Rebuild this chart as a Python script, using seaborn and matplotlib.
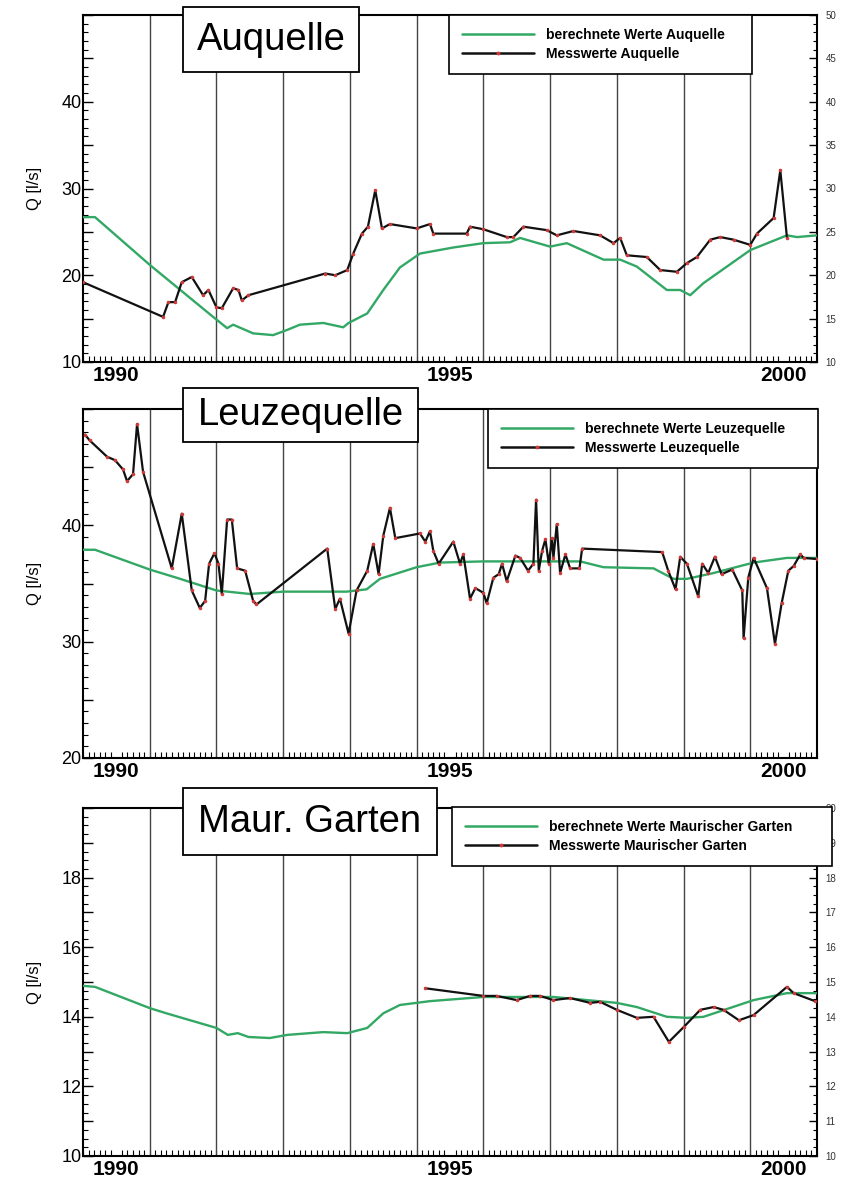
import matplotlib
matplotlib.use('Agg')
import matplotlib.pyplot as plt
import matplotlib.ticker as mticker
from matplotlib.lines import Line2D
from matplotlib.patches import Rectangle
import seaborn as sns

# --- Auquelle ---
au_calc_x = [1990.0, 1990.18, 1991.0, 1991.95, 1992.16, 1992.25, 1992.55, 1992.85, 1993.06,
             1993.25, 1993.6, 1993.9, 1993.98, 1994.26, 1994.5, 1994.75, 1995.05, 1995.55,
             1996.0, 1996.4, 1996.55, 1997.0, 1997.25, 1997.8, 1998.05, 1998.3, 1998.75,
             1998.95, 1999.1, 1999.3, 2000.0, 2000.55, 2000.7, 2001.0]
au_calc_y = [26.7, 26.7, 21.2, 15.2, 13.9, 14.3, 13.3, 13.1, 13.7,
             14.3, 14.5, 14.0, 14.5, 15.6, 18.3, 20.9, 22.5, 23.2,
             23.7, 23.8, 24.3, 23.3, 23.7, 21.8, 21.8, 21.0, 18.3,
             18.3, 17.7, 19.1, 22.9, 24.6, 24.4, 24.6]
au_mess_x = [1990.0, 1991.2, 1991.28, 1991.38, 1991.48, 1991.63, 1991.8, 1991.88, 1992.0,
             1992.08, 1992.25, 1992.33, 1992.38, 1992.48, 1993.63, 1993.78, 1993.96, 1994.05,
             1994.18, 1994.27, 1994.38, 1994.48, 1994.6, 1995.0, 1995.2, 1995.25, 1995.75,
             1995.8, 1996.0, 1996.35, 1996.45, 1996.6, 1996.95, 1997.1, 1997.35, 1997.75,
             1997.95, 1998.05, 1998.15, 1998.45, 1998.65, 1998.9, 1999.05, 1999.2, 1999.4,
             1999.55, 1999.75, 2000.0, 2000.1, 2000.35, 2000.45, 2000.55]
au_mess_y = [19.2, 15.2, 16.9, 16.9, 19.2, 19.8, 17.7, 18.3, 16.3,
             16.2, 18.5, 18.3, 17.1, 17.7, 20.2, 20.0, 20.6, 22.5,
             24.8, 25.6, 29.8, 25.4, 25.9, 25.4, 25.9, 24.8, 24.8,
             25.6, 25.3, 24.4, 24.4, 25.6, 25.2, 24.6, 25.1, 24.6,
             23.7, 24.3, 22.3, 22.1, 20.6, 20.4, 21.4, 22.1, 24.1,
             24.4, 24.1, 23.5, 24.8, 26.6, 32.1, 24.3]

# --- Leuzequelle ---
le_calc_x = [1990.0, 1990.18, 1991.0, 1991.4, 1992.0, 1992.5, 1993.0, 1993.95, 1994.25,
             1994.45, 1995.0, 1995.35, 1996.0, 1997.45, 1997.8, 1998.55, 1998.85, 1999.05,
             1999.45, 2000.05, 2000.55, 2001.0]
le_calc_y = [37.9, 37.9, 36.2, 35.5, 34.4, 34.1, 34.3, 34.3, 34.5,
             35.4, 36.4, 36.8, 36.9, 36.9, 36.4, 36.3, 35.4, 35.4,
             35.9, 36.8, 37.2, 37.2]
le_mess_x = [1990.03, 1990.1, 1990.36, 1990.48, 1990.6, 1990.66, 1990.75, 1990.81, 1990.9,
             1991.33, 1991.48, 1991.63, 1991.75, 1991.83, 1991.89, 1991.97, 1992.03, 1992.08,
             1992.16, 1992.23, 1992.31, 1992.43, 1992.55, 1992.6, 1993.66, 1993.78, 1993.85,
             1993.98, 1994.1, 1994.26, 1994.35, 1994.43, 1994.5, 1994.6, 1994.68, 1995.05,
             1995.13, 1995.2, 1995.25, 1995.33, 1995.55, 1995.65, 1995.7, 1995.8, 1995.88,
             1996.0, 1996.05, 1996.15, 1996.23, 1996.28, 1996.35, 1996.48, 1996.55, 1996.67,
             1996.75, 1996.79, 1996.83, 1996.88, 1996.93, 1996.98, 1997.03, 1997.05, 1997.1,
             1997.15, 1997.23, 1997.3, 1997.44, 1997.48, 1998.68, 1998.77, 1998.88, 1998.95,
             1999.05, 1999.22, 1999.28, 1999.37, 1999.47, 1999.57, 1999.73, 1999.88, 1999.9,
             1999.97, 2000.05, 2000.25, 2000.37, 2000.47, 2000.57, 2000.65, 2000.75, 2000.8,
             2001.0]
le_mess_y = [47.8, 47.3, 45.9, 45.6, 44.8, 43.8, 44.4, 48.7, 44.6,
             36.3, 41.0, 34.4, 32.9, 33.5, 36.7, 37.6, 36.7, 34.1,
             40.5, 40.5, 36.3, 36.1, 33.5, 33.2, 38.0, 32.8, 33.7,
             30.7, 34.4, 36.1, 38.4, 35.8, 39.1, 41.5, 38.9, 39.3,
             38.6, 39.5, 37.8, 36.7, 38.6, 36.7, 37.5, 33.7, 34.6,
             34.2, 33.3, 35.5, 35.8, 36.7, 35.2, 37.4, 37.2, 36.1,
             36.7, 42.2, 36.1, 37.8, 38.8, 36.7, 38.9, 37.2, 40.1,
             35.9, 37.5, 36.3, 36.3, 38.0, 37.7, 36.1, 34.5, 37.3,
             36.7, 33.9, 36.7, 35.9, 37.3, 35.8, 36.2, 34.4, 30.3,
             35.5, 37.2, 34.6, 29.8, 33.3, 36.1, 36.5, 37.5, 37.2,
             37.1]

# --- Maurischer Garten ---
mg_calc_x = [1990.0, 1990.18, 1991.0, 1991.25, 1992.0, 1992.17, 1992.32, 1992.48, 1992.8,
             1993.06, 1993.6, 1993.96, 1994.26, 1994.5, 1994.75, 1995.2, 1996.0, 1997.05,
             1998.0, 1998.3, 1998.75, 1999.05, 1999.3, 2000.05, 2000.55, 2001.0]
mg_calc_y = [14.89, 14.86, 14.25, 14.1, 13.68, 13.48, 13.53, 13.42, 13.39,
             13.48, 13.56, 13.53, 13.68, 14.1, 14.34, 14.45, 14.57, 14.57,
             14.4, 14.28, 14.0, 13.97, 14.0, 14.48, 14.68, 14.68]
mg_mess_x = [1995.13, 1996.0, 1996.2, 1996.5, 1996.7, 1996.85, 1997.05, 1997.3, 1997.6,
             1997.75, 1998.0, 1998.3, 1998.55, 1998.78, 1999.0, 1999.25, 1999.45, 1999.6,
             1999.83, 2000.05, 2000.55, 2000.65, 2000.97]
mg_mess_y = [14.82, 14.6, 14.6, 14.48, 14.6, 14.6, 14.48, 14.54, 14.4,
             14.43, 14.2, 13.97, 14.0, 13.28, 13.7, 14.2, 14.28, 14.2,
             13.9, 14.05, 14.86, 14.68, 14.45]

year_lines = [1991, 1992, 1993, 1994, 1995, 1996, 1997, 1998, 1999, 2000]
year_labels = ['1990', '1995', '2000']
year_label_pos = [1990.5, 1995.5, 2000.5]

W, H = 847, 1182
GREEN = '#33a865'
RED = '#d23a3a'

sns.set_style('ticks')
plt.rcParams['font.family'] = ['Liberation Sans', 'DejaVu Sans']
plt.rcParams['text.color'] = 'black'
plt.rcParams['xtick.color'] = 'black'
plt.rcParams['ytick.color'] = 'black'
plt.rcParams['axes.labelcolor'] = 'black'

fig = plt.figure(figsize=(W / 100, H / 100), dpi=100)


def frac(x0, y0, x1, y1):
    # pixel box -> figure fraction [left, bottom, width, height]
    return [x0 / W, 1 - y1 / H, (x1 - x0) / W, (y1 - y0) / H]


def panel(box, calc_x, calc_y, mess_x, mess_y, ylim, major, minor, labelled,
          title, title_box, legend_box, leg_names, right_ticks=None):
    ax = fig.add_axes(frac(*box))
    ax.set_xlim(1990, 2001)
    ax.set_ylim(*ylim)
    for yr in year_lines:
        ax.axvline(yr, color='#444444', lw=1, zorder=1)

    sns.lineplot(x=calc_x, y=calc_y, ax=ax, color=GREEN, lw=1.7, sort=False, zorder=3)
    sns.lineplot(x=mess_x, y=mess_y, ax=ax, color='#111111', lw=1.6, sort=False, zorder=4,
                 marker='o', markersize=1.8, markerfacecolor=RED, markeredgecolor=RED)

    ax.xaxis.set_major_locator(mticker.FixedLocator(year_label_pos))
    ax.xaxis.set_major_formatter(mticker.FixedFormatter(year_labels))
    ax.xaxis.set_minor_locator(mticker.MultipleLocator(1 / 12))
    ax.tick_params(axis='x', which='major', length=0, pad=3, labelsize=15)
    ax.tick_params(axis='x', which='minor', direction='in', length=4, width=0.8,
                   top=False, bottom=True)
    for lbl in ax.get_xticklabels():
        lbl.set_fontweight('bold')

    ax.yaxis.set_major_locator(mticker.MultipleLocator(major))
    ax.yaxis.set_minor_locator(mticker.MultipleLocator(minor))
    ax.yaxis.set_major_formatter(mticker.FuncFormatter(
        lambda v, p: f'{v:g}' if any(abs(v - l) < 1e-6 for l in labelled) else ''))
    ax.tick_params(axis='y', which='major', direction='in', length=7, width=1,
                   labelsize=13, pad=1, right=False)
    ax.tick_params(axis='y', which='minor', direction='in', length=3.5, width=0.8,
                   right=False)
    ax.set_ylabel('Q [l/s]', fontsize=12, labelpad=14)
    ax.set_xlabel('')
    for s in ax.spines.values():
        s.set_color('black')
        s.set_linewidth(1.5)

    if right_ticks is not None:
        ax2 = ax.twinx()
        ax2.set_ylim(*ylim)
        step, mstep = right_ticks
        ax2.yaxis.set_major_locator(mticker.MultipleLocator(step))
        ax2.yaxis.set_minor_locator(mticker.MultipleLocator(mstep))
        ax2.yaxis.set_major_formatter(mticker.FuncFormatter(lambda v, p: f'{v:g}'))
        ax2.tick_params(axis='y', which='major', direction='in', length=6, width=1,
                        labelsize=7, pad=6, colors='black')
        ax2.tick_params(axis='y', which='minor', direction='in', length=3, width=0.8)
        for lbl in ax2.get_yticklabels():
            lbl.set_color('#333333')
        for s in ax2.spines.values():
            s.set_visible(False)

    # title box
    tb = frac(*title_box)
    fig.add_artist(Rectangle((tb[0], tb[1]), tb[2], tb[3], transform=fig.transFigure,
                             facecolor='white', edgecolor='black', lw=1.3, zorder=3))
    fig.text(tb[0] + tb[2] / 2, tb[1] + tb[3] / 2, title, fontsize=27.5,
             ha='center', va='center', zorder=4)

    # legend box
    handles = [Line2D([], [], color=GREEN, lw=1.8),
               Line2D([], [], color='#111111', lw=1.8, marker='o', markersize=1.8,
                      markerfacecolor=RED, markeredgecolor=RED)]
    leg = fig.legend(handles, leg_names, loc='upper left', bbox_to_anchor=frac(*legend_box),
                     bbox_transform=fig.transFigure, mode='expand', frameon=True,
                     fancybox=False, edgecolor='black', framealpha=1, borderpad=0.95,
                     borderaxespad=0, labelspacing=0.35, handlelength=5.2,
                     handletextpad=0.8, prop={'weight': 'bold', 'size': 10})
    leg.get_frame().set_linewidth(1.2)
    leg.set_zorder(5)
    return ax


panel((83, 15, 817, 362), au_calc_x, au_calc_y, au_mess_x, au_mess_y, (10, 50), 5, 1,
      [10, 20, 30, 40], 'Auquelle', (183, 7, 359, 72), (449, 15, 752, 73),
      ['berechnete Werte Auquelle', 'Messwerte Auquelle'], right_ticks=(5, 1))

panel((83, 409, 817, 758), le_calc_x, le_calc_y, le_mess_x, le_mess_y, (20, 50), 5, 1,
      [20, 30, 40], 'Leuzequelle', (183, 388, 418, 442), (488, 409, 818, 468),
      ['berechnete Werte Leuzequelle', 'Messwerte Leuzequelle'])

panel((83, 808, 817, 1156), mg_calc_x, mg_calc_y, mg_mess_x, mg_mess_y, (10, 20), 1, 0.25,
      [10, 12, 14, 16, 18], 'Maur. Garten', (183, 788, 437, 855), (452, 807, 832, 867),
      ['berechnete Werte Maurischer Garten', 'Messwerte Maurischer Garten'],
      right_ticks=(1, 0.25))

fig.savefig('out.png', dpi=100)
